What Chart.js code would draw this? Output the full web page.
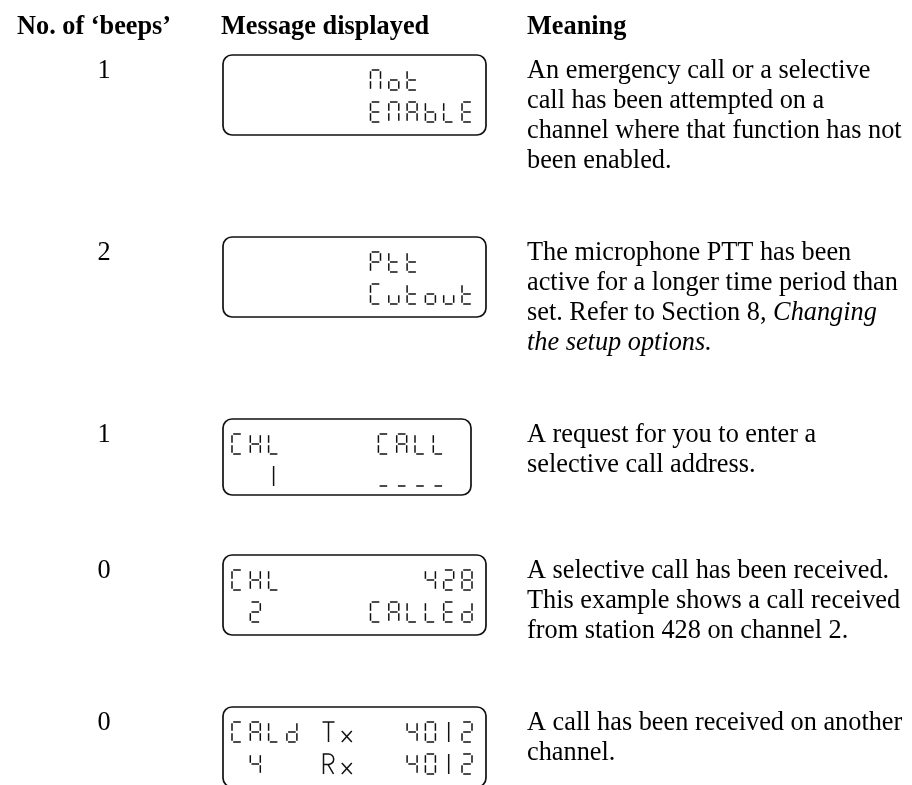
<!DOCTYPE html>
<html>
<head>
<meta charset="utf-8">
<script src="https://cdn.jsdelivr.net/npm/chart.js@4.4.1/dist/chart.umd.min.js"></script>
<style>
  html, body { margin: 0; padding: 0; background: #fff; }
  #wrap { width: 912px; height: 785px; }
</style>
</head>
<body>
<div id="wrap"><canvas id="tabela" width="912" height="785"></canvas></div>
<script>
(function() {

	// column headers
	var cabecalhos = ["No. of \u2018beeps\u2019", "Message displayed", "Meaning"];
	// number of beeps for each row
	var beeps = [1, 2, 1, 0, 0];
	// LCD lines: [left part, right part]
	var lcdLinha1 = [["", "Not   "], ["", "Ptt   "], ["CHL     CALL", ""], ["CHL", "428"], ["CALd Tx", "4012"]];
	var lcdLinha2 = [["", "ENAbLE"], ["", "Cutout"], ["  1     ----", ""], [" 2", "CALLEd"], [" 4   Rx", "4012"]];
	var lcdLargura = [263, 263, 248, 263, 263];
	var lcdAltura = [80, 80, 76, 80, 80];
	// meaning text, _..._ = italic
	var significados = [
		["An emergency call or a selective", "call has been attempted on a", "channel where that function has not", "been enabled."],
		["The microphone PTT has been", "active for a longer time period than", "set. Refer to Section 8, _Changing_", "_the setup options._"],
		["A request for you to enter a", "selective call address."],
		["A selective call has been received.", "This example shows a call received", "from station 428 on channel 2."],
		["A call has been received on another", "channel."]
	];

	// layout
	var cabecalhoX = [17, 221, 527];
	var caixaX = 223;
	var textoX = 527;
	var numeroX = 104;
	var cabecalhoY = 34;
	var primeiraLinha = 55;
	var alturaLinha = 30;
	var espaco = 62;
	var tamanho = 26.3;
	var fonteSerif = '"Liberation Serif", "Times New Roman", serif';

	// 7-segment style glyphs
	var SEG = {
		'N': 'abcef', 'o': 'cdeg', 't': 'defg', 'E': 'adefg', 'A': 'abcefg', 'b': 'cdefg',
		'L': 'def', 'P': 'abefg', 'C': 'adef', 'u': 'cde', 'H': 'bcefg', 'd': 'bcdeg',
		'1': '|', '2': 'abdeg', '4': 'bcfg', '0': 'abcdef', '8': 'abcdefg', '-': 'd'
	};
	var passo = 18.3, gw = 10, gh = 20;

	function linha(ctx, x1, y1, x2, y2) {
		ctx.beginPath();
		ctx.moveTo(x1, y1);
		ctx.lineTo(x2, y2);
		ctx.stroke();
	}

	function glifo(ctx, c, x, y) {
		var g = 1.2, m = gh / 2;
		if (c === 'T') {
			linha(ctx, x - 1, y, x + gw + 1, y);
			linha(ctx, x + gw / 2, y, x + gw / 2, y + gh);
			return;
		}
		if (c === 'x') {
			linha(ctx, x, y + gh * 0.45, x + gw, y + gh);
			linha(ctx, x + gw, y + gh * 0.45, x, y + gh);
			return;
		}
		if (c === 'R') {
			ctx.beginPath();
			ctx.moveTo(x, y + gh);
			ctx.lineTo(x, y);
			ctx.lineTo(x + gw * 0.5, y);
			ctx.arc(x + gw * 0.5, y + gh * 0.26, gh * 0.26, -Math.PI / 2, Math.PI / 2);
			ctx.lineTo(x, y + gh * 0.52);
			ctx.stroke();
			linha(ctx, x + gw * 0.45, y + gh * 0.52, x + gw, y + gh);
			return;
		}
		var s = SEG[c];
		if (!s) return;
		if (s === '|') {
			linha(ctx, x + gw / 2, y, x + gw / 2, y + gh);
			return;
		}
		if (s.indexOf('a') >= 0) linha(ctx, x + g, y, x + gw - g, y);
		if (s.indexOf('b') >= 0) linha(ctx, x + gw, y + g, x + gw, y + m - g);
		if (s.indexOf('c') >= 0) linha(ctx, x + gw, y + m + g, x + gw, y + gh - g);
		if (s.indexOf('d') >= 0) linha(ctx, x + g, y + gh, x + gw - g, y + gh);
		if (s.indexOf('e') >= 0) linha(ctx, x, y + m + g, x, y + gh - g);
		if (s.indexOf('f') >= 0) linha(ctx, x, y + g, x, y + m - g);
		if (s.indexOf('g') >= 0) linha(ctx, x + g, y + m, x + gw - g, y + m);
	}

	function textoLcd(ctx, texto, x, y) {
		for (var i = 0; i < texto.length; i++) glifo(ctx, texto[i], x + i * passo, y);
	}

	function textoMisto(ctx, texto, x, y) {
		var partes = texto.split('_');
		for (var p = 0; p < partes.length; p++) {
			if (!partes[p]) continue;
			ctx.font = (p % 2 ? 'italic ' : '') + tamanho + 'px ' + fonteSerif;
			ctx.fillText(partes[p], x, y);
			x += ctx.measureText(partes[p]).width;
		}
	}

	var tabelaPlugin = {
		id: 'tabela',
		afterDraw: function(chart) {
			var ctx = chart.ctx;
			var sx = function(v) { return chart.scales.x.getPixelForValue(v); };
			var sy = function(v) { return chart.scales.y.getPixelForValue(v); };
			ctx.save();
			ctx.fillStyle = '#000';
			ctx.strokeStyle = '#111';
			ctx.textBaseline = 'alphabetic';
			ctx.textAlign = 'left';

			ctx.font = 'bold ' + tamanho + 'px ' + fonteSerif;
			for (var h = 0; h < cabecalhos.length; h++) {
				ctx.fillText(cabecalhos[h], sx(cabecalhoX[h]), sy(cabecalhoY));
			}

			var topo = primeiraLinha;
			for (var i = 0; i < beeps.length; i++) {
				var base = topo + 23;
				ctx.font = tamanho + 'px ' + fonteSerif;
				ctx.textAlign = 'center';
				ctx.fillText(String(beeps[i]), sx(numeroX), sy(base));
				ctx.textAlign = 'left';

				// display box
				var bx = sx(caixaX), by = sy(topo);
				ctx.lineWidth = 1.7;
				ctx.beginPath();
				ctx.roundRect(bx, by, lcdLargura[i], lcdAltura[i], 9);
				ctx.stroke();

				ctx.lineWidth = 1.5;
				var linhas = [lcdLinha1[i], lcdLinha2[i]];
				for (var l = 0; l < 2; l++) {
					var gy = by + 15 + l * 32;
					if (linhas[l][0]) textoLcd(ctx, linhas[l][0], bx + 9, gy);
					var dir = linhas[l][1];
					if (dir) {
						var fim = bx + lcdLargura[i] - 14;
						textoLcd(ctx, dir, fim - gw - (dir.length - 1) * passo, gy);
					}
				}

				// meaning
				var txt = significados[i];
				for (var k = 0; k < txt.length; k++) {
					textoMisto(ctx, txt[k], sx(textoX), sy(base + k * alturaLinha));
				}

				topo += Math.max(txt.length * alturaLinha, 74) + espaco;
			}
			ctx.restore();
		}
	};

	new Chart(document.getElementById('tabela'), {
		type: 'scatter',
		data: { datasets: [{ data: [], pointRadius: 0 }] },
		options: {
			responsive: false,
			animation: false,
			devicePixelRatio: 1,
			layout: { padding: 0 },
			plugins: { legend: { display: false }, tooltip: { enabled: false } },
			scales: {
				x: { type: 'linear', min: 0, max: 912, display: false },
				y: { type: 'linear', min: 0, max: 785, reverse: true, display: false }
			}
		},
		plugins: [tabelaPlugin]
	});
})();
</script>
</body>
</html>
